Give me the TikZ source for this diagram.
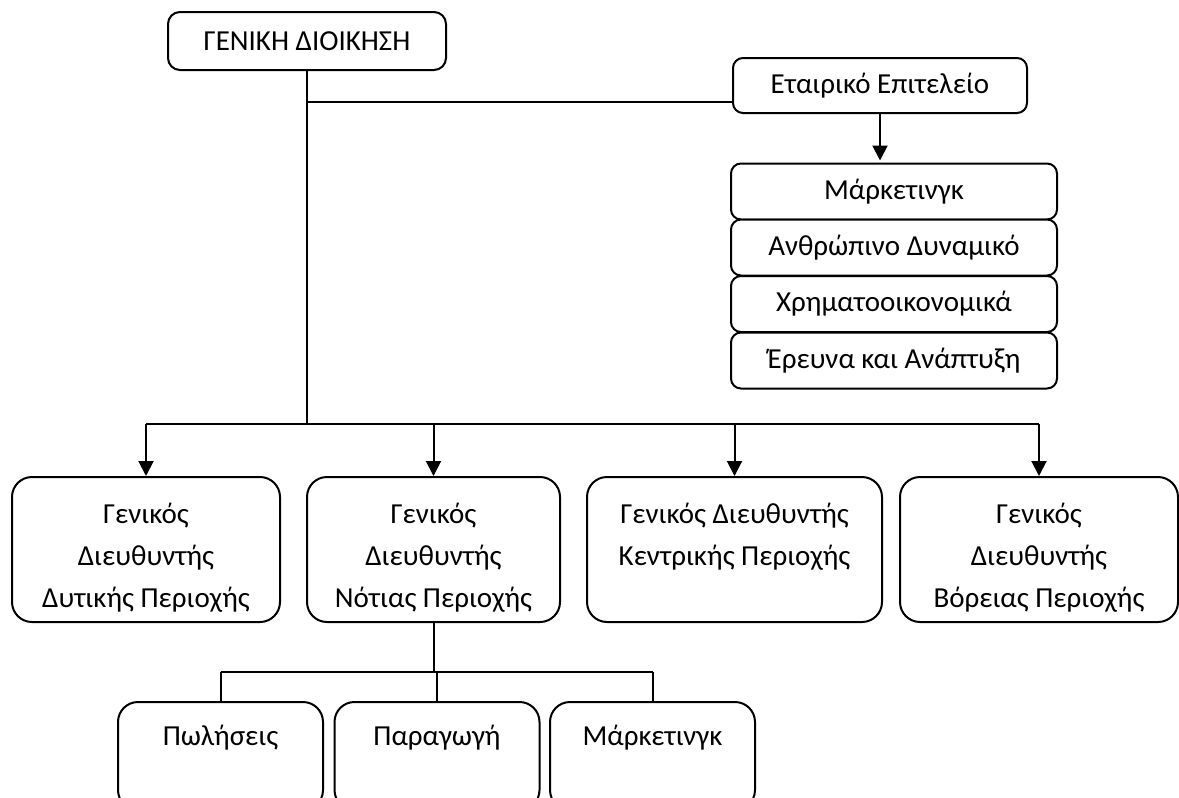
\documentclass[tikz,border=0pt]{standalone}
\usepackage{fontspec}
\setmainfont{Carlito}
\usetikzlibrary{positioning,arrows.meta,calc}

\begin{document}
\begin{tikzpicture}[
  x=0.5pt, y=-0.5pt,
  font=\fontsize{14.5}{21}\selectfont,
  line width=1pt,
  headbox/.style={
    draw, rounded corners=6pt, fill=white, inner sep=0pt,
    minimum width=139pt, minimum height=29pt},
  staffbox/.style={
    draw, rounded corners=5pt, fill=white, inner sep=0pt,
    minimum width=#1, minimum height=28pt},
  region/.style={
    draw, rounded corners=10pt, fill=white, align=center, inner sep=0pt,
    minimum width=#1, text height=65pt, text depth=7.5pt},   % 3 lines from the top
  unitbox/.style={
    draw, rounded corners=10pt, fill=white, inner sep=0pt,
    minimum width=102.5pt, text height=21.5pt, text depth=32.5pt},
  arr/.style={-{Triangle[length=7.5pt,width=7.5pt]}}
]

% ---- page --------------------------------------------------------------
\useasboundingbox (0,0) rectangle (1179,798);
\clip (0,0) rectangle (1179,798);

% ================= top level =================
\node[headbox] (gd) at (307,41) {ΓΕΝΙΚΗ ΔΙΟΙΚΗΣΗ};
\node[staffbox=147pt, minimum height=27.5pt] (et) at (880,85.5) {Εταιρικό Επιτελείο};

% ================= staff functions =================
\node[staffbox=163pt] (m1) at (894,191.5) {Μάρκετινγκ};
\node[staffbox=163pt] (m2) at (894,247.5) {Ανθρώπινο Δυναμικό};
\node[staffbox=163pt] (m3) at (894,304) {Χρηματοοικονομικά};
\node[staffbox=163pt] (m4) at (894,360.5) {Έρευνα και Ανάπτυξη};

% ================= regional directors =================
\node[region=134pt]   (r1) at (146,549.5)   {Γενικός\\ Διευθυντής\\ Δυτικής Περιοχής};
\node[region=126.5pt] (r2) at (433.5,549.5) {Γενικός\\ Διευθυντής\\ Νότιας Περιοχής};
\node[region=147.5pt, text height=44pt, text depth=28.5pt]
                      (r3) at (734.5,549.5) {Γενικός Διευθυντής\\ Κεντρικής Περιοχής};
\node[region=139pt]   (r4) at (1039,549.5)  {Γενικός\\ Διευθυντής\\ Βόρειας Περιοχής};

% ================= south units =================
\node[unitbox] (s1) at (220.5,756) {Πωλήσεις};
\node[unitbox] (s2) at (437,756)   {Παραγωγή};
\node[unitbox] (s3) at (652.5,756) {Μάρκετινγκ};

% ================= connectors =================
\coordinate (staffjoin) at (307,102);
\coordinate (bar) at (307,424);
\coordinate (subbar) at (435,672);

\draw (gd.south) -- (bar);
\draw (staffjoin) -- (staffjoin -| et.west);
\draw[arr, shorten >=1pt] (et.south) -- (et.south |- m1.north);

\draw (bar -| r1.north) -- (bar -| r4.north);
\foreach \r in {r1,r2,r3,r4} {\draw[arr] (bar -| \r.north) -- (\r.north);}

\draw (r2.south) -- (r2.south |- subbar);
\draw (subbar -| s1.north) -- (subbar -| s3.north);
\foreach \u in {s1,s2,s3} {\draw (subbar -| \u.north) -- (\u.north);}

\end{tikzpicture}
\end{document}
